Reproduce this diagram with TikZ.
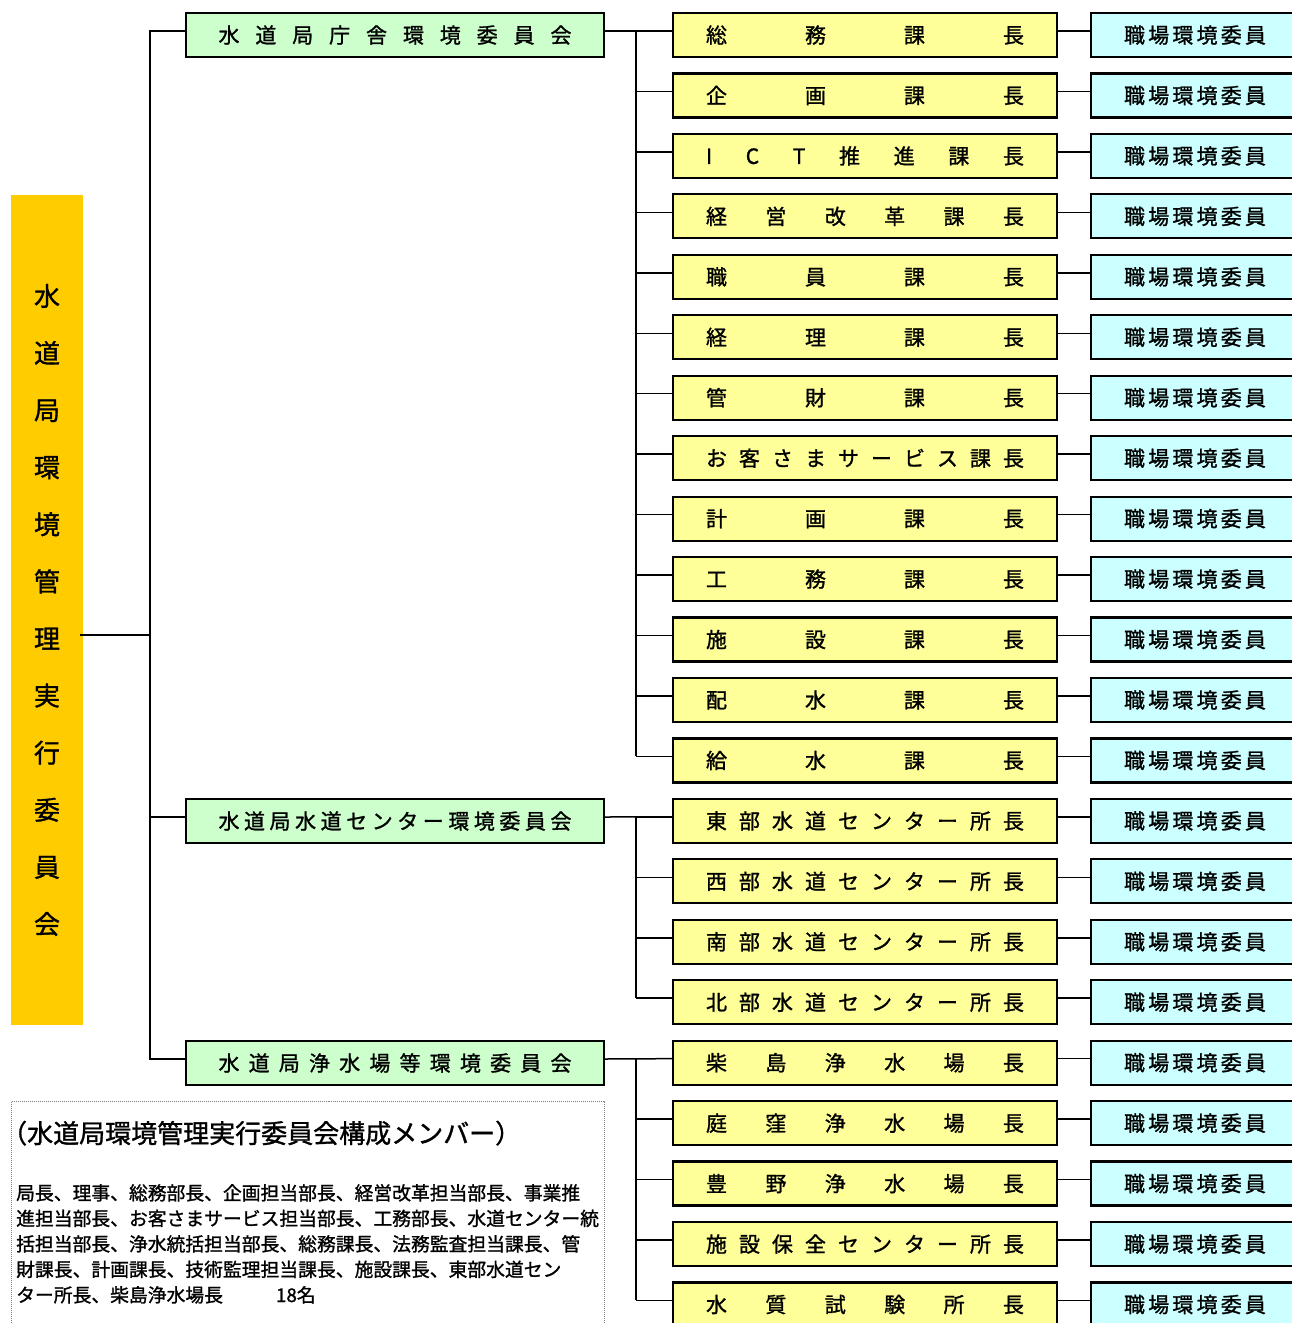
\documentclass[tikz,border=0pt]{standalone}
\usepackage{fontspec}
\setmainfont{Noto Sans CJK JP}[RawFeature={embolden=1.2}]
\usetikzlibrary{calc}
\definecolor{orgc}{HTML}{FFCC00}
\definecolor{grnc}{HTML}{CCFFCC}
\definecolor{yelc}{HTML}{FFFF99}
\definecolor{cync}{HTML}{CCFFFF}
\begin{document}
\begin{tikzpicture}[x=1pt,y=-1pt,
  box/.style={draw=black, line width=2.2pt, rectangle, inner sep=0pt, minimum height=44pt,
    text height=18.5pt, text depth=2.5pt, font=\fontsize{21pt}{25pt}\selectfont},
  yel/.style={box, fill=yelc, minimum width=384pt},
  grn/.style={box, fill=grnc, minimum width=418pt},
  cyn/.style={box, fill=cync, minimum width=208pt},
  conn/.style={line width=1.5pt, draw=black},
  memline/.style={anchor=base west, inner sep=0pt, font=\fontsize{18.8pt}{25.5pt}\selectfont}]
\useasboundingbox (0,0) rectangle (1292,1323);
\clip (0,0) rectangle (1292,1323);
\fill[white] (0,0) rectangle (1292,1323);

% left vertical box
\node[fill=orgc, minimum width=72pt, minimum height=830pt, inner sep=0pt, align=center,
  font=\fontsize{26pt}{57.1pt}\selectfont] (o) at (47,610)
  {水\\道\\局\\環\\境\\管\\理\\実\\行\\委\\員\\会};

% committee boxes
\node[grn] (g1) at (395,35) {\makebox[353pt]{水\hfill 道\hfill 局\hfill 庁\hfill 舎\hfill 環\hfill 境\hfill 委\hfill 員\hfill 会}};
\node[grn] (g2) at (395,821) {\makebox[353pt]{水\hfill 道\hfill 局\hfill 水\hfill 道\hfill セ\hfill ン\hfill タ\hfill ー\hfill 環\hfill 境\hfill 委\hfill 員\hfill 会}};
\node[grn] (g3) at (395,1063) {\makebox[353pt]{水\hfill 道\hfill 局\hfill 浄\hfill 水\hfill 場\hfill 等\hfill 環\hfill 境\hfill 委\hfill 員\hfill 会}};

\coordinate (mbus) at (150,0);
\coordinate (ybus) at (636,0);

% rows
\foreach \i/\txt in {
  1/{総\hfill 務\hfill 課\hfill 長},
  2/{企\hfill 画\hfill 課\hfill 長},
  3/{I\hfill C\hfill T\hfill 推\hfill 進\hfill 課\hfill 長},
  4/{経\hfill 営\hfill 改\hfill 革\hfill 課\hfill 長},
  5/{職\hfill 員\hfill 課\hfill 長},
  6/{経\hfill 理\hfill 課\hfill 長},
  7/{管\hfill 財\hfill 課\hfill 長},
  8/{お\hfill 客\hfill さ\hfill ま\hfill サ\hfill ー\hfill ビ\hfill ス\hfill 課\hfill 長},
  9/{計\hfill 画\hfill 課\hfill 長},
  10/{工\hfill 務\hfill 課\hfill 長},
  11/{施\hfill 設\hfill 課\hfill 長},
  12/{配\hfill 水\hfill 課\hfill 長},
  13/{給\hfill 水\hfill 課\hfill 長},
  14/{東\hfill 部\hfill 水\hfill 道\hfill セ\hfill ン\hfill タ\hfill ー\hfill 所\hfill 長},
  15/{西\hfill 部\hfill 水\hfill 道\hfill セ\hfill ン\hfill タ\hfill ー\hfill 所\hfill 長},
  16/{南\hfill 部\hfill 水\hfill 道\hfill セ\hfill ン\hfill タ\hfill ー\hfill 所\hfill 長},
  17/{北\hfill 部\hfill 水\hfill 道\hfill セ\hfill ン\hfill タ\hfill ー\hfill 所\hfill 長},
  18/{柴\hfill 島\hfill 浄\hfill 水\hfill 場\hfill 長},
  19/{庭\hfill 窪\hfill 浄\hfill 水\hfill 場\hfill 長},
  20/{豊\hfill 野\hfill 浄\hfill 水\hfill 場\hfill 長},
  21/{施\hfill 設\hfill 保\hfill 全\hfill セ\hfill ン\hfill タ\hfill ー\hfill 所\hfill 長},
  22/{水\hfill 質\hfill 試\hfill 験\hfill 所\hfill 長}} {
  \node[yel] (y\i) at (865,{35+60.45*(\i-1)}) {\makebox[318pt]{\txt}};
  \node[cyn] (c\i) at (1195,{35+60.45*(\i-1)}) {\makebox[142pt]{職\hfill 場\hfill 環\hfill 境\hfill 委\hfill 員}};
  \coordinate (yl\i) at ($(y\i.west)+(0,-4)$);
  \draw[conn] ($(y\i.east)+(0,-4)$) -- ($(c\i.west)+(0,-4)$);
  \draw[conn] (yl\i -| ybus) -- (yl\i);
}

% connectors from committees
\coordinate (gl1) at ($(g1.west)+(0,-4)$);
\coordinate (gl2) at ($(g2.west)+(0,-4)$);
\coordinate (gl3) at ($(g3.west)+(0,-4)$);
\coordinate (ol) at ($(o.east)+(-3,25)$);
\draw[conn] (gl1) -| (mbus |- gl3) -- (gl3);
\draw[conn] (gl2 -| mbus) -- (gl2);
\draw[conn] (ol) -- (ol -| mbus);

\draw[conn] ($(g1.east)+(0,-4)$) -- (yl1);
\draw[conn] ($(g2.east)+(0,-4)$) -- (yl14);
\draw[conn] ($(g3.east)+(0,-4)$) -- (yl18);
\draw[conn] (yl1 -| ybus) -- (yl13 -| ybus);
\draw[conn] (yl14 -| ybus) -- (yl17 -| ybus);
\draw[conn] (yl18 -| ybus) -- (yl22 -| ybus);

% member box
\node[draw=gray, line width=1pt, dash pattern=on 1pt off 1pt, minimum width=593pt,
  minimum height=260pt, anchor=north west, inner sep=0pt] (mb) at (11,1101) {};
\node[anchor=base west, inner sep=0pt, font=\fontsize{26pt}{30pt}\selectfont] (mt) at (1,1143)
  {（水道局環境管理実行委員会構成メンバー）};
\node[memline] (m1) at (16,1200) {局長、理事、総務部長、企画担当部長、経営改革担当部長、事業推};
\node[memline] (m2) at (16,1225.5) {進担当部長、お客さまサービス担当部長、工務部長、水道センター統};
\node[memline] (m3) at (16,1251) {括担当部長、浄水統括担当部長、総務課長、法務監査担当課長、管};
\node[memline] (m4) at (16,1276.5) {財課長、計画課長、技術監理担当課長、施設課長、東部水道セン};
\node[memline] (m5) at (16,1302) {ター所長、柴島浄水場長\hspace{53pt}18名};
\end{tikzpicture}
\end{document}
